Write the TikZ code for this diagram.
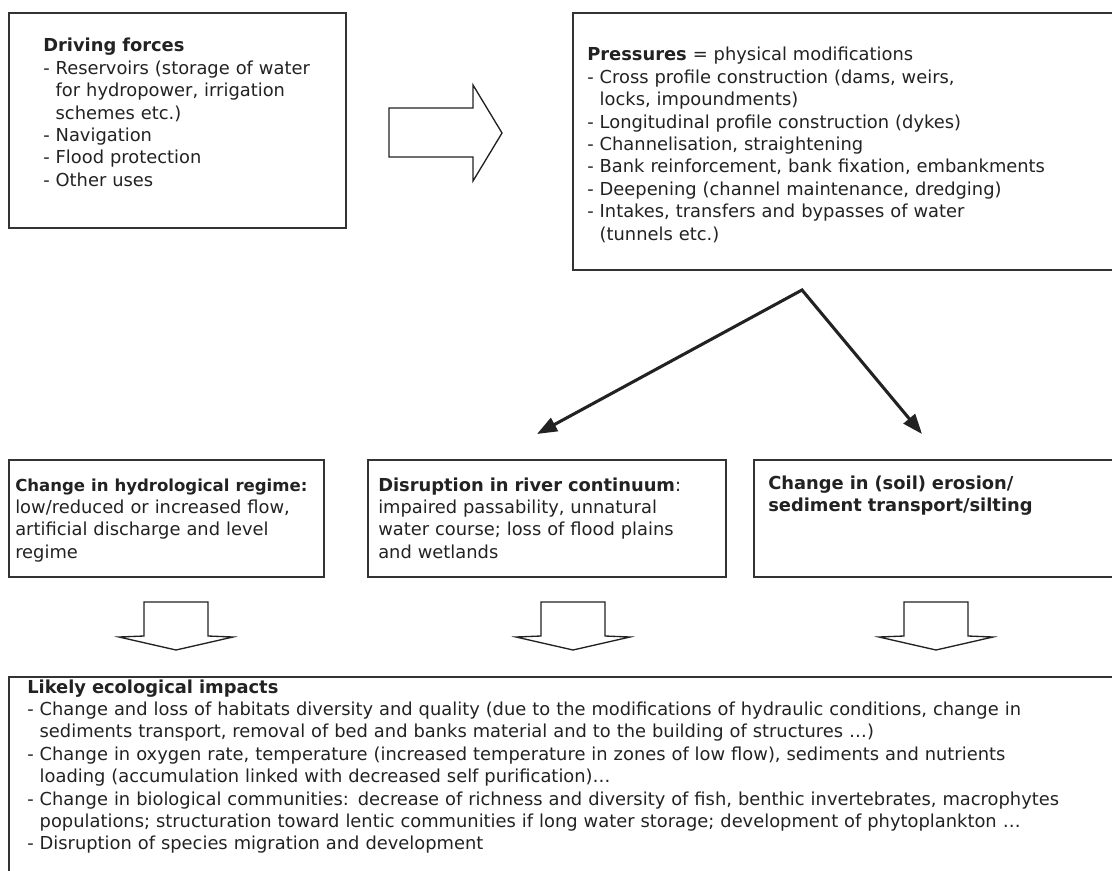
\documentclass[tikz,border=0pt]{standalone}
\usepackage{fontspec}
\setmainfont[WordSpace=1.2]{DejaVu Sans}
\usepackage{xcolor}
\usepackage{tikz}
\usetikzlibrary{positioning, arrows.meta, calc}
\definecolor{boxline}{HTML}{333333}
\definecolor{inktext}{HTML}{222222}
\newcommand{\cont}{\phantom{- }}

\begin{document}
\begin{tikzpicture}[x=0.75pt, y=-0.75pt,
    box/.style={draw=boxline, line width=1.3pt, anchor=north west, inner sep=0pt},
    txt/.style={anchor=base west, inner sep=0pt, text width=840pt, align=left,
                text=inktext, font=\fontsize{13.4}{16.8}\selectfont},
    blockarrow/.style={draw=inktext, line width=1pt, fill=white, line join=miter},
    split/.style={draw=inktext, line width=2.3pt, line join=miter,
                  {Triangle[length=15pt, width=11pt]}-{Triangle[length=15pt, width=11pt]}}]
    \useasboundingbox (0,0) rectangle (1112,870);
    \clip (0,0) rectangle (1112,870);
    \fill[white] (0,0) rectangle (1112,870);

    % top row
    \node[box, minimum width=337*0.75pt, minimum height=215*0.75pt] (drive) at (8,12) {};
    \node[box, minimum width=600*0.75pt, minimum height=257*0.75pt] (press) at (572,12) {};
    \node[txt] (drivetxt) at (43,52) {%
      \textbf{Driving forces}\\
      - Reservoirs (storage of water\\
      \cont for hydropower, irrigation\\
      \cont schemes etc.)\\
      - Navigation\\
      - Flood protection\\
      - Other uses};
    \node[txt] (presstxt) at (587,61) {%
      \textbf{Pressures} = physical modifications\\
      - Cross profile construction (dams, weirs,\\
      \cont locks, impoundments)\\
      - Longitudinal profile construction (dykes)\\
      - Channelisation, straightening\\
      - Bank reinforcement, bank fixation, embankments\\
      - Deepening (channel maintenance, dredging)\\
      - Intakes, transfers and bypasses of water\\
      \cont (tunnels etc.)};

    % block arrow driving forces -> pressures
    \draw[blockarrow] (389,108) -- (473,108) -- (473,85) -- (502,133)
      -- (473,181) -- (473,157) -- (389,157) -- cycle;

    % middle row
    \node[box, minimum width=315*0.75pt, minimum height=117*0.75pt] (hydro) at (8,459) {};
    \node[box, minimum width=358*0.75pt, minimum height=117*0.75pt] (contin) at (367,459) {};
    \node[box, minimum width=420*0.75pt, minimum height=117*0.75pt] (erosion) at (753,459) {};
    \node[txt] (hydrotxt) at (15,491) {%
      {\fontsize{12.4}{16.8}\selectfont\textbf{Change in hydrological regime:}}\\
      low/reduced or increased flow,\\
      artificial discharge and level\\
      regime};
    \node[txt] (contintxt) at (378,491) {%
      \textbf{Disruption in river continuum}:\\
      impaired passability, unnatural\\
      water course; loss of flood plains\\
      and wetlands};
    \node[txt] (erosiontxt) at (768,489) {%
      \textbf{Change in (soil) erosion/}\\
      \textbf{sediment transport/silting}};

    % split arrows from pressures
    \coordinate (fork) at (802,290);
    \coordinate (continin) at (537,434);
    \coordinate (erosionin) at (922,434);
    \draw[split] (continin) -- (fork) -- (erosionin);

    % block arrows down to impacts
    \foreach \c in {176,573,936}
      \draw[blockarrow] (\c-32,602) -- (\c+32,602) -- (\c+32,636) -- (\c+57,637)
        -- (\c,650) -- (\c-57,637) -- (\c-32,636) -- cycle;

    % bottom box
    \node[box, minimum width=1150*0.75pt, minimum height=250*0.75pt] (impact) at (8,676) {};
    \node[txt] (impacttxt) at (27,693) {%
      \textbf{Likely ecological impacts}\\
      - Change and loss of habitats diversity and quality (due to the modifications of hydraulic conditions, change in\\
      \cont sediments transport, removal of bed and banks material and to the building of structures …)\\
      - Change in oxygen rate, temperature (increased temperature in zones of low flow), sediments and nutrients\\
      \cont loading (accumulation linked with decreased self purification)…\\
      - Change in biological communities: decrease of richness and diversity of fish, benthic invertebrates, macrophytes\\
      \cont populations; structuration toward lentic communities if long water storage; development of phytoplankton …\\
      - Disruption of species migration and development};
\end{tikzpicture}
\end{document}
